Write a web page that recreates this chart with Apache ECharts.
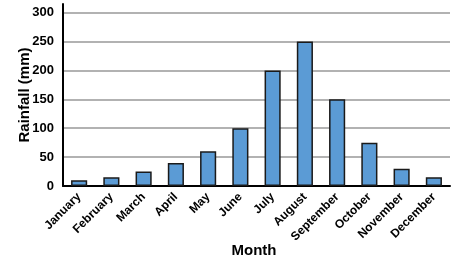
<!DOCTYPE html>
<html><head><meta charset="utf-8">
<script src="https://cdn.jsdelivr.net/npm/echarts@6/dist/echarts.min.js"></script>
<style>html,body{margin:0;padding:0;background:#fff}#c{width:461px;height:262px}</style>
</head><body><div id="c"></div>
<script>
const categories = ['January','February','March','April','May','June','July','August','September','October','November','December'];
const rainfall = [10, 15, 25, 40, 60, 100, 200, 250, 150, 75, 30, 15];
const yTicks = [0, 50, 100, 150, 200, 250, 300];

const chart = echarts.init(document.getElementById('c'), null, {renderer: 'canvas'});
const font = '"Liberation Sans", Arial, sans-serif';
chart.setOption({
  animation: false,
  grid: {left: 63, right: 11, top: 4, bottom: 76, containLabel: false, outerBoundsMode: 'none'},
  xAxis: {
    type: 'category',
    data: categories,
    name: 'Month',
    nameLocation: 'middle',
    nameGap: 57,
    nameMoveOverlap: false,
    nameTextStyle: {fontFamily: font, fontWeight: 'bold', fontSize: 15, color: '#000', padding: [0, 5, 0, 0]},
    axisLine: {lineStyle: {color: '#000', width: 2}},
    axisTick: {show: false},
    axisLabel: {rotate: 45, margin: 9, fontFamily: font, fontWeight: 'bold', fontSize: 12, color: '#000', interval: 0}
  },
  yAxis: {
    type: 'value',
    min: 0,
    max: 315,
    interval: 50,
    name: 'Rainfall (mm)',
    nameLocation: 'middle',
    nameGap: 31,
    nameMoveOverlap: false,
    nameTextStyle: {fontFamily: font, fontWeight: 'bold', fontSize: 15, color: '#000'},
    axisLine: {show: true, lineStyle: {color: '#000', width: 2}},
    axisTick: {show: false},
    axisLabel: {
      margin: 9, fontFamily: font, fontWeight: 'bold', fontSize: 13, color: '#000',
      formatter: v => yTicks.indexOf(v) >= 0 ? String(v) : ''
    },
    splitLine: {show: true, lineStyle: {color: ['#999','#999','#999','#999','#999','#999','#999','rgba(0,0,0,0)'], width: 1.5}}
  },
  series: [{
    type: 'bar',
    data: rainfall,
    barWidth: '50%',
    itemStyle: {color: '#5B9BD5', borderColor: '#1a1a1a', borderWidth: 1.5}
  }]
});
</script></body></html>
